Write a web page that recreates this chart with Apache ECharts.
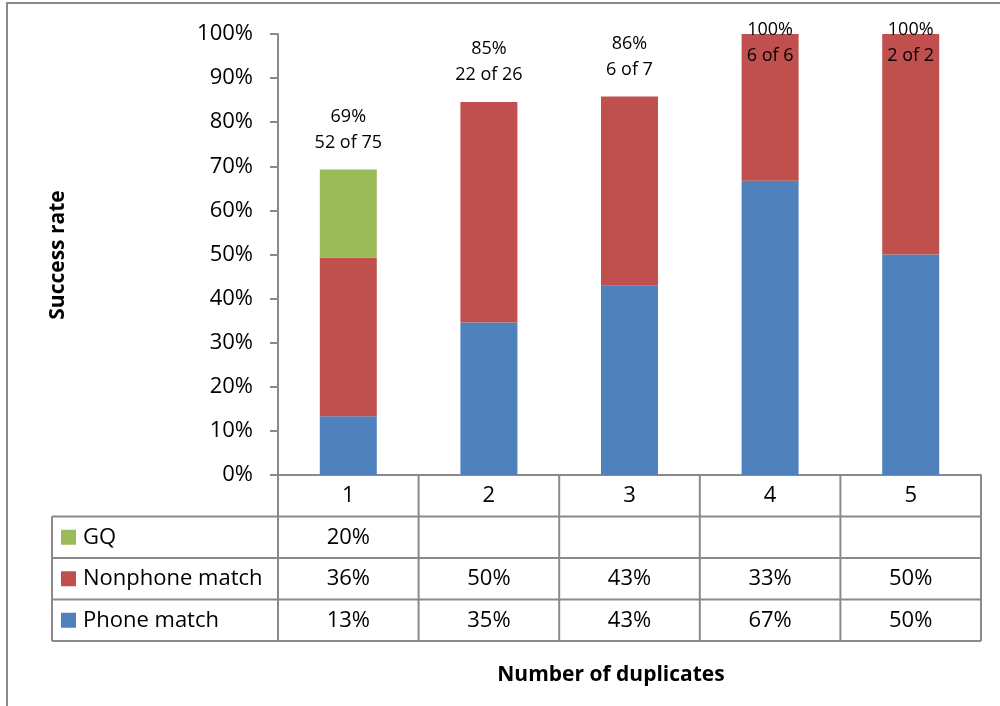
<!DOCTYPE html>
<html>
<head>
<meta charset="utf-8">
<script src="https://cdn.jsdelivr.net/npm/echarts@6/dist/echarts.min.js"></script>
<style>
  html, body { margin: 0; padding: 0; background: #fff; }
  #main { width: 1000px; height: 706px; }
</style>
</head>
<body>
<div id="main"></div>
<script>
// data (percent of cases)
var categories = ['1', '2', '3', '4', '5'];
var phoneMatch = [13.3, 34.6, 42.9, 66.7, 50];
var nonphoneMatch = [36, 50, 42.9, 33.3, 50];
var gq = [20, null, null, null, null];
var successCount = [52, 22, 6, 6, 2];
var totalCount = [75, 26, 7, 6, 2];

var FONT = '"Open Sans", "Liberation Sans", sans-serif';
var GRAY = '#8a8a8a';
var BLUE = '#4F81BD', RED = '#C0504D', GREEN = '#9BBB59';

var totals = categories.map(function (c, i) {
    return (phoneMatch[i] || 0) + (nonphoneMatch[i] || 0) + (gq[i] || 0);
});

var labelData = totals.map(function (t, i) {
    var item = { value: t };
    if (t >= 99.5) {
        item.label = { position: 'inside', offset: [0, 9] };
    }
    return item;
});

var myChart = echarts.init(document.getElementById('main'));

var option = {
    animation: false,
    backgroundColor: '#fff',
    grid: { left: 278, right: 19, top: 34, bottom: 231 },
    xAxis: {
        type: 'category',
        data: categories,
        axisLine: { lineStyle: { color: GRAY, width: 2 } },
        axisTick: { show: false },
        axisLabel: { fontFamily: FONT, fontSize: 22, color: '#000', margin: 10 }
    },
    yAxis: {
        type: 'value',
        min: 0,
        max: 100,
        interval: 10,
        splitLine: { show: false },
        axisLine: { show: true, lineStyle: { color: GRAY, width: 2 } },
        axisTick: { show: true, length: 8, lineStyle: { color: GRAY, width: 2 } },
        axisLabel: {
            formatter: '{value}%', fontFamily: FONT, fontSize: 22, color: '#000', margin: 25
        }
    },
    series: [{
        name: 'Phone match',
        type: 'bar',
        stack: 'rate',
        barWidth: 57,
        itemStyle: { color: BLUE },
        data: phoneMatch
    }, {
        name: 'Nonphone match',
        type: 'bar',
        stack: 'rate',
        itemStyle: { color: RED },
        data: nonphoneMatch
    }, {
        name: 'GQ',
        type: 'bar',
        stack: 'rate',
        itemStyle: { color: GREEN },
        data: gq
    }, {
        name: 'labels',
        type: 'scatter',
        symbolSize: 0,
        data: labelData,
        z: 10,
        itemStyle: { opacity: 1 },
        label: {
            show: true,
            position: 'top',
            distance: 14,
            fontFamily: FONT,
            fontSize: 18,
            lineHeight: 26,
            color: '#000',
            opacity: 1,
            formatter: function (p) {
                var i = p.dataIndex;
                var pct = Math.round(successCount[i] / totalCount[i] * 100);
                return pct + '%\n' + successCount[i] + ' of ' + totalCount[i];
            }
        }
    }]
};
myChart.setOption(option);

// data table under the plot, placed from the axis scale
var rows = [
    { name: 'GQ', color: GREEN, values: gq },
    { name: 'Nonphone match', color: RED, values: nonphoneMatch },
    { name: 'Phone match', color: BLUE, values: phoneMatch }
];
var axisY = 475, rowH = 41.5, tableLeft = 52;
var centers = categories.map(function (c, i) {
    return myChart.convertToPixel({ xAxisIndex: 0 }, i);
});
var band = centers[1] - centers[0];
var bounds = [centers[0] - band / 2].concat(centers.map(function (c) { return c + band / 2; }));
var tableBottom = axisY + rowH * 4;
var tableRight = bounds[bounds.length - 1];

var g = [];
function line(x1, y1, x2, y2) {
    g.push({
        type: 'line',
        shape: { x1: x1, y1: y1, x2: x2, y2: y2 },
        style: { stroke: GRAY, lineWidth: 2 },
        z: 5
    });
}
bounds.forEach(function (b) { line(b, axisY, b, tableBottom); });
line(tableLeft, axisY + rowH, tableLeft, tableBottom);
for (var r = 1; r <= 4; r++) {
    line(tableLeft, axisY + rowH * r, tableRight, axisY + rowH * r);
}
rows.forEach(function (row, ri) {
    var cy = axisY + rowH * (ri + 1) + rowH / 2;
    g.push({
        type: 'rect',
        shape: { x: 61, y: cy - 7.5, width: 15, height: 15 },
        style: { fill: row.color }
    });
    g.push({
        type: 'text', x: 83, y: cy,
        style: { text: row.name, font: '22px ' + FONT, fill: '#000', verticalAlign: 'middle', align: 'left' }
    });
    row.values.forEach(function (v, i) {
        if (v == null) return;
        g.push({
            type: 'text', x: centers[i], y: cy,
            style: { text: Math.round(v) + '%', font: '22px ' + FONT, fill: '#000', verticalAlign: 'middle', align: 'center' }
        });
    });
});
// axis titles
g.push({
    type: 'text', x: 611, y: 675,
    style: { text: 'Number of duplicates', font: 'bold 21px ' + FONT, fill: '#000', align: 'center', verticalAlign: 'middle' }
});
g.push({
    type: 'text', x: 58, y: 255, rotation: Math.PI / 2,
    style: { text: 'Success rate', font: 'bold 21px ' + FONT, fill: '#000', align: 'center', verticalAlign: 'middle' }
});
// outer chart border
g.push({
    type: 'rect',
    shape: { x: 7, y: 3, width: 1000, height: 720 },
    style: { fill: null, stroke: GRAY, lineWidth: 2 },
    silent: true
});

myChart.setOption({ graphic: g });
</script>
</body>
</html>
